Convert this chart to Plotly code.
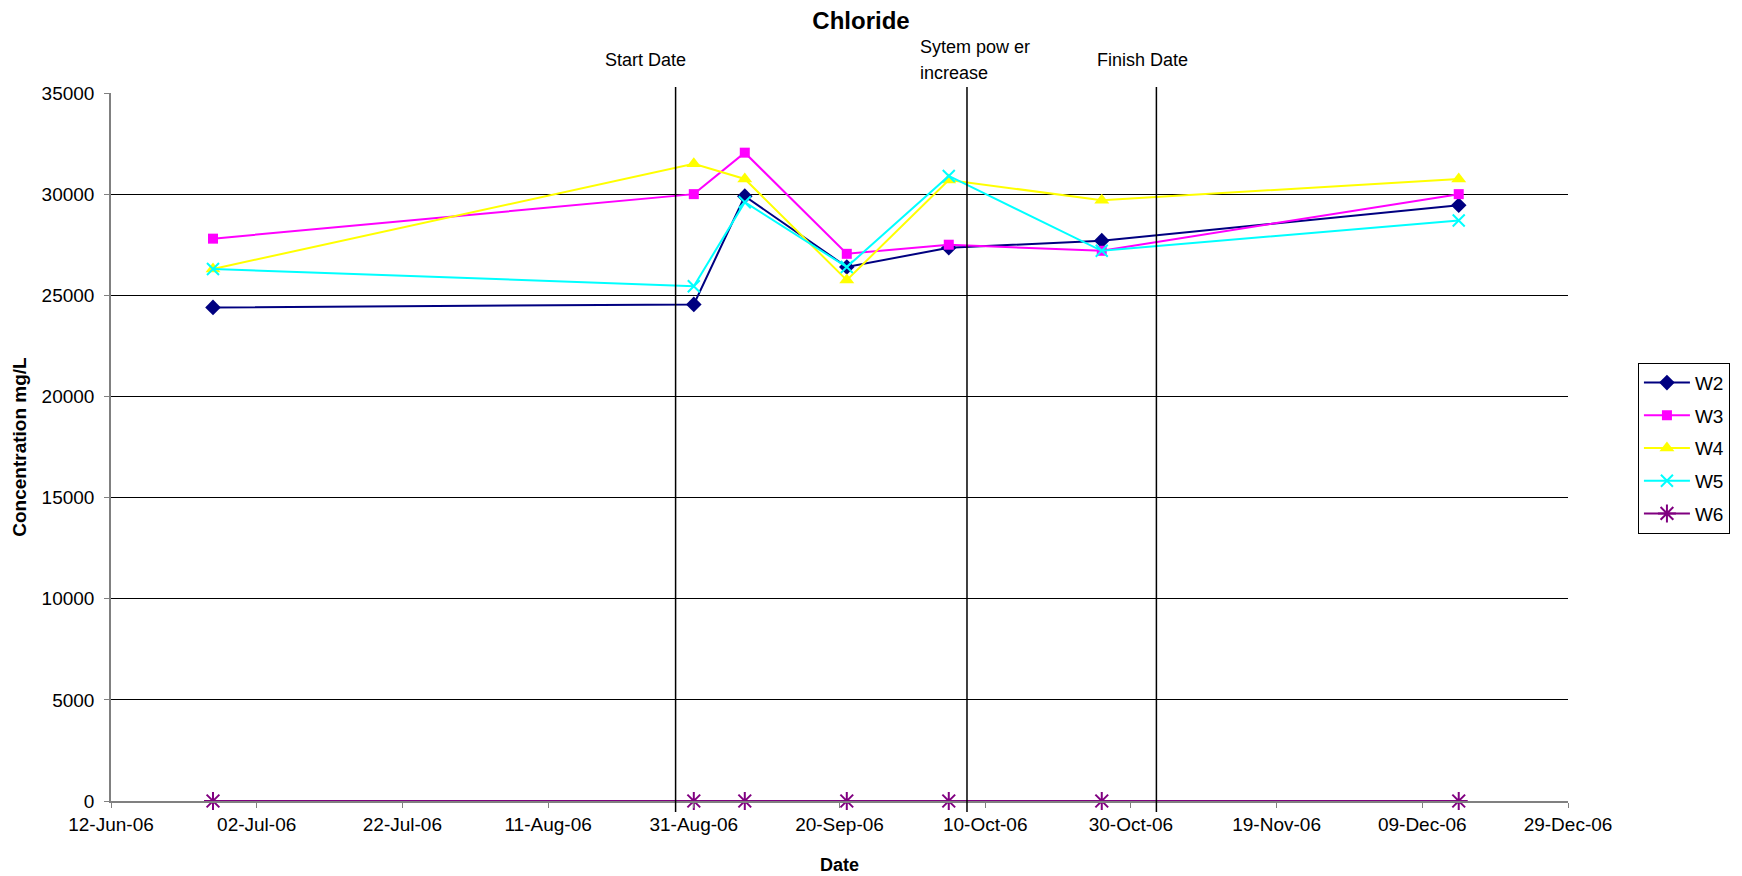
import plotly.graph_objects as go

# ---- data ----
dates = ["2006-06-26", "2006-08-31", "2006-09-07", "2006-09-21",
         "2006-10-05", "2006-10-26", "2006-12-14"]
w2 = [24400, 24550, 29900, 26400, 27350, 27700, 29450]
w3 = [27800, 30000, 32050, 27050, 27500, 27200, 30000]
w4 = [26300, 31500, 30750, 25750, 30700, 29700, 30750]
w5 = [26300, 25450, 29600, 26400, 30900, 27200, 28700]
w6 = [0, 0, 0, 0, 0, 0, 0]

event_dates = ["2006-08-28 12:00", "2006-10-07 12:00", "2006-11-02 12:00"]
event_labels = [["Start Date"], ["Sytem pow er", "increase"], ["Finish Date"]]

series_names = ["W2", "W3", "W4", "W5", "W6"]
series_values = [w2, w3, w4, w5, w6]
colors = ["#000080", "#FF00FF", "#FFFF00", "#00FFFF", "#800080"]
symbols = ["diamond", "square", "triangle-up", "x-thin-open", "asterisk-open"]
sizes = [12, 10, 13, 12, 15]

FONT = "Arial, Liberation Sans, sans-serif"

# page body has an 8px margin; figure sized/placed to compensate
OFF = 8
W, H = 1742 - OFF, 876 - OFF
PLOT_L, PLOT_R, PLOT_T, PLOT_B = 111 - OFF, 1570 - OFF, 93 - OFF, 801 - OFF
PLOT_H = PLOT_B - PLOT_T

fig = go.Figure()
for name, vals, col, sym, sz in zip(series_names, series_values, colors, symbols, sizes):
    marker = dict(symbol=sym, size=sz, color=col)
    if sym.endswith("-open"):
        marker["line"] = dict(color=col, width=2)
    fig.add_trace(go.Scatter(
        x=dates, y=vals, name=name, mode="lines+markers",
        line=dict(color=col, width=2), marker=marker,
        legendgroup=name, cliponaxis=False,
    ))

# event vertical lines and labels
shifts = [-30, -49, -14]
anchors = ["center", "left", "center"]
for d, lines, sh, anc in zip(event_dates, event_labels, shifts, anchors):
    fig.add_shape(type="line", xref="x", yref="paper", x0=d, x1=d,
                  y0=-0.0155, y1=1.0085, line=dict(color="black", width=1.5))
    n = len(lines)
    for i, txt in enumerate(lines):
        ypx = 60 - OFF + (i - (n - 1) / 2) * 26  # figure px from top
        fig.add_annotation(x=d, xref="x", y=(PLOT_B - ypx) / PLOT_H, yref="paper", text=txt,
                           showarrow=False, xanchor=anc, yanchor="middle",
                           xshift=sh, align="left",
                           font=dict(family=FONT, size=18, color="black"))

fig.update_layout(
    width=W, height=H,
    margin=dict(l=PLOT_L, r=W - PLOT_R, t=PLOT_T, b=H - PLOT_B),
    paper_bgcolor="white", plot_bgcolor="white",
    font=dict(family=FONT, size=18, color="black"),
    title=dict(text="<b>Chloride</b>", x=(861 - OFF) / W, xref="container", xanchor="center",
               y=1 - 13 / H, yref="container", yanchor="middle",
               font=dict(family=FONT, size=24, color="black")),
    legend=dict(x=1.048, y=0.619, xanchor="left", yanchor="top",
                bordercolor="black", borderwidth=1, bgcolor="white",
                font=dict(family=FONT, size=19, color="black"),
                tracegroupgap=5, traceorder="grouped", itemwidth=46),
    showlegend=True,
)

fig.update_xaxes(
    type="date", range=["2006-06-12", "2006-12-29"],
    tick0="2006-06-12", dtick=20 * 86400000, tickformat="%d-%b-%y",
    ticks="outside", ticklen=5, tickcolor="#808080",
    showline=True, linecolor="#808080", linewidth=1.5,
    showgrid=False, zeroline=False, automargin=False,
    tickfont=dict(family=FONT, size=19),
    title=dict(text="<b>Date</b>", font=dict(family=FONT, size=18), standoff=25),
)
fig.update_yaxes(
    range=[0, 35000], dtick=5000, tick0=0, tickformat="d",
    ticks="outside", ticklen=5, tickcolor="#808080",
    showline=True, linecolor="#808080", linewidth=1.5,
    showgrid=True, gridcolor="black", gridwidth=1,
    zeroline=False, ticklabelstandoff=6, automargin=False,
    tickfont=dict(family=FONT, size=19),
    title=dict(text="<b>Concentration mg/L</b>", font=dict(family=FONT, size=19), standoff=10),
)

fig.write_html("out.html")
